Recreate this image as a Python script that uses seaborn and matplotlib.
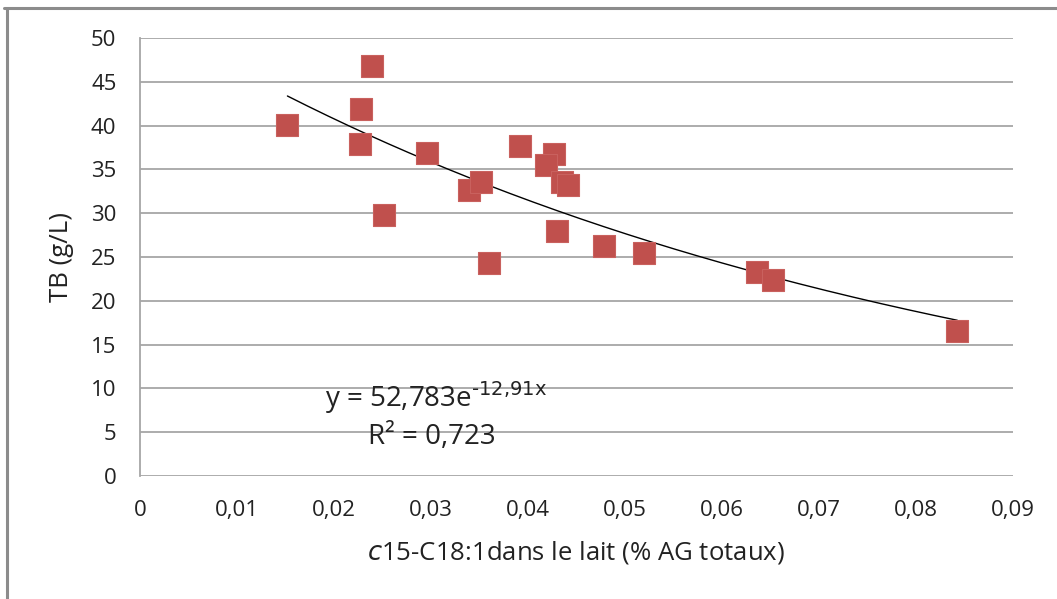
import numpy as np
import pandas as pd
import matplotlib
matplotlib.use("Agg")
import matplotlib.pyplot as plt
import seaborn as sns
from matplotlib.lines import Line2D

# ============================
# DONNEES
# ============================

c15_c18 = [0.0152, 0.0239, 0.0228, 0.0227, 0.0252, 0.0296, 0.0339, 0.0352,
           0.0360, 0.0392, 0.0427, 0.0419, 0.0435, 0.0441, 0.0430, 0.0479,
           0.0520, 0.0636, 0.0653, 0.0843]
tb = [40.1, 46.8, 41.9, 37.9, 29.8, 36.9, 32.6, 33.6,
      24.3, 37.7, 36.7, 35.5, 33.6, 33.2, 28.0, 26.3,
      25.4, 23.3, 22.4, 16.5]

# tendance exponentielle affichée sur le graphique
coef_a = 52.783
coef_b = -12.91

x_ticks = [0, 0.01, 0.02, 0.03, 0.04, 0.05, 0.06, 0.07, 0.08, 0.09]
x_tick_labels = ["0", "0,01", "0,02", "0,03", "0,04", "0,05", "0,06", "0,07", "0,08", "0,09"]
y_ticks = [0, 5, 10, 15, 20, 25, 30, 35, 40, 45, 50]

df = pd.DataFrame({"x": c15_c18, "TB": tb})
x_fit = np.linspace(min(c15_c18), max(c15_c18), 200)
fit = pd.DataFrame({"x": x_fit, "y": coef_a * np.exp(coef_b * x_fit)})

# ============================
# FIGURE
# ============================

sns.set_style("white")
plt.rcParams["font.family"] = ["Open Sans", "DejaVu Sans"]
plt.rcParams["mathtext.default"] = "regular"

fig = plt.figure(figsize=(10.57, 5.99), dpi=100)
ax = fig.add_axes([0.1325, 0.2053, 0.8255, 0.7313])

sns.lineplot(data=fit, x="x", y="y", ax=ax, color="black", linewidth=1.0, zorder=2)
sns.scatterplot(data=df, x="x", y="TB", ax=ax, marker="s", s=230,
                color="#C0504D", edgecolor="#C9615E", linewidth=0.8, zorder=3)

ax.set_xlim(0, 0.09)
ax.set_ylim(0, 50)
ax.set_xticks(x_ticks)
ax.set_xticklabels(x_tick_labels)
ax.set_yticks(y_ticks)
ax.yaxis.grid(True, color="#A6A6A6", linewidth=1.3)
ax.set_axisbelow(True)
ax.tick_params(axis="both", length=0, labelsize=16, colors="#222222")
ax.tick_params(axis="x", pad=17)
ax.tick_params(axis="y", pad=17)

for side in ["top", "right", "bottom"]:
    ax.spines[side].set_visible(False)
ax.spines["left"].set_color("#A6A6A6")
ax.spines["left"].set_linewidth(1.3)

ax.set_ylabel("TB (g/L)", fontsize=18.5, color="#222222", labelpad=12)
ax.set_xlabel("$\\mathit{c}$15-C18:1dans le lait (% AG totaux)", fontsize=18.5,
              color="#222222", labelpad=13)

ax.text(0.0191, 7.9, "y = 52,783e$^{\\text{-12,91x}}$", fontsize=20, color="#222222")
ax.text(0.0235, 3.7, "R² = 0,723", fontsize=20, color="#222222")

# cadre du graphique
fig.add_artist(Line2D([0.004, 1.0], [0.987, 0.987], transform=fig.transFigure,
                      color="#8C8C8C", linewidth=2.2))
fig.add_artist(Line2D([0.0065, 0.0065], [0.0, 0.987], transform=fig.transFigure,
                      color="#8C8C8C", linewidth=2.2))

fig.savefig("out.png", dpi=100)
